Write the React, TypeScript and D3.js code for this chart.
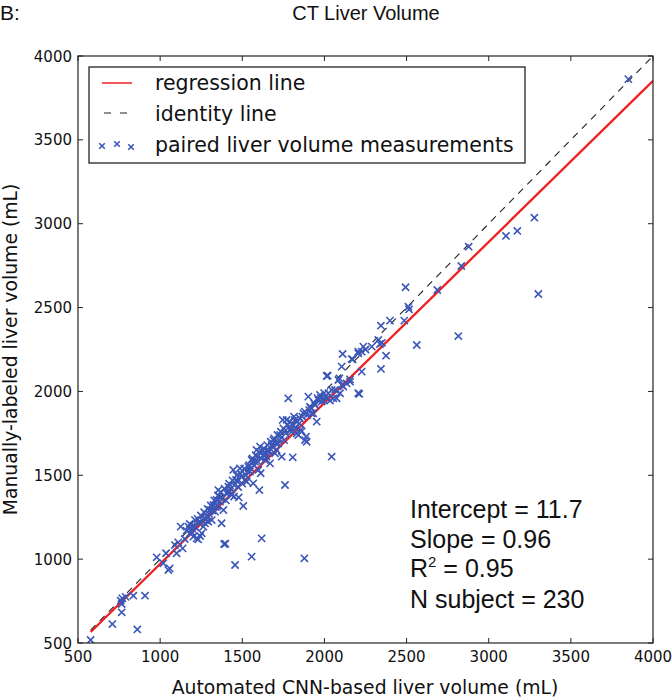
import React from "react";
import * as d3 from "d3";

const autoVolume = [
  577, 709, 861, 766, 766, 770, 790, 760, 837, 908,
  979, 1019, 1050, 1058, 1036, 1100, 1090, 1137, 1125, 1110, 1150,
  1172, 1182, 1192, 1202, 1212, 1222, 1232, 1243, 1253, 1263, 1273, 1283, 1293, 1303, 1314, 1324, 1334, 1344, 1348,
  1354, 1360, 1364, 1374, 1385, 1389, 1397, 1405, 1415, 1425, 1435, 1445, 1450, 1456, 1462, 1470, 1478, 1486, 1496,
  1506, 1516, 1527, 1537, 1547, 1557, 1557, 1567, 1577, 1587, 1592, 1598, 1604, 1608, 1612, 1618, 1622, 1628, 1638,
  1648, 1659, 1669, 1679, 1689, 1699, 1709, 1719, 1730, 1740, 1746, 1754, 1760, 1770, 1780, 1786, 1794, 1807, 1815,
  1823, 1831, 1841, 1847, 1855, 1862, 1872, 1878, 1882, 1888, 1892, 1902, 1908, 1912, 1922, 1932, 1943, 1953, 1963,
  1973, 1983, 1993, 2004, 2014, 2024, 2034, 2044, 2054, 2064, 2074, 2095, 2115, 2135, 2156, 2206,
  1160, 1180, 1195, 1205, 1215, 1228, 1238, 1248, 1258, 1268, 1278, 1288, 1298, 1308, 1318, 1330, 1340, 1352, 1368,
  1378, 1392, 1400, 1410, 1420, 1430, 1440, 1452, 1466, 1475, 1490, 1500, 1512, 1522, 1532, 1542, 1552, 1562, 1572,
  1582, 1596, 1602, 1615, 1632, 1642, 1652, 1663, 1673, 1684, 1694, 1705, 1714, 1725, 1735, 1750, 1765, 1776, 1790,
  1800, 1810, 1820, 1835, 1850, 1865, 1880, 1895, 1918, 1938, 1958, 1978, 1998,
  2014, 2020, 2044, 2085, 2091, 2105, 2105, 2111, 2156, 2166, 2172, 2206, 2206, 2212, 2227, 2227, 2237, 2250, 2288,
  2328, 2338, 2344, 2344, 2350, 2375, 2399, 2486, 2494, 2511, 2515, 2562, 2687, 2815, 2833, 2878, 3105, 3174, 3278,
  3302, 3850,
];

const manualVolume = [
  518, 613, 581, 683, 732, 766, 775, 752, 782, 782,
  1011, 975, 935, 945, 1035, 1035, 1084, 1064, 1194, 1100, 1120,
  1194, 1154, 1160, 1134, 1233, 1124, 1118, 1138, 1154, 1194, 1213, 1253, 1223, 1293, 1233, 1323, 1283, 1353, 1317,
  1412, 1373, 1343, 1214, 1293, 1090, 1092, 1392, 1432, 1402, 1382, 1532, 1373, 965, 1472, 1462, 1368, 1541, 1492,
  1317, 1472, 1462, 1551, 1522, 1015, 1591, 1452, 1581, 1651, 1611, 1532, 1412, 1671, 1512, 1124, 1641, 1621, 1591,
  1611, 1651, 1571, 1681, 1710, 1631, 1651, 1690, 1740, 1611, 1830, 1710, 1442, 1830, 1959, 1790, 1770, 1607, 1850,
  1780, 1750, 1740, 1810, 1770, 1762, 1869, 1005, 1710, 1730, 1700, 1969, 1889, 1909, 1869, 1869, 1919, 1820, 1949,
  1979, 1939, 1949, 1969, 1959, 1989, 1945, 1611, 1959, 2009, 1959, 1989, 2029, 2048, 2058, 1989,
  1170, 1210, 1180, 1200, 1190, 1240, 1220, 1260, 1230, 1280, 1240, 1300, 1270, 1320, 1290, 1350, 1310, 1380, 1400,
  1360, 1420, 1350, 1400, 1450, 1420, 1470, 1440, 1500, 1430, 1510, 1450, 1540, 1500, 1520, 1560, 1540, 1600, 1560,
  1620, 1580, 1640, 1600, 1660, 1630, 1680, 1640, 1700, 1670, 1720, 1690, 1740, 1710, 1760, 1780, 1750, 1800, 1820,
  1760, 1800, 1830, 1820, 1840, 1850, 1880, 1860, 1900, 1930, 1960, 1960, 1990,
  2092, 2094, 2009, 2068, 2078, 2038, 2148, 2223, 2072, 2193, 2191, 2227, 2237, 1985, 2118, 2237, 2267, 2250, 2267,
  2307, 2283, 2134, 2392, 2290, 2213, 2422, 2422, 2621, 2505, 2489, 2277, 2605, 2330, 2748, 2863, 2927, 2957, 3036,
  2581, 3862,
];

const tickValues = [500, 1000, 1500, 2000, 2500, 3000, 3500, 4000];
const legendLabels = ["regression line", "identity line", "paired liver volume measurements"];
const statLines = ["Intercept = 11.7", "Slope = 0.96", "R2 = 0.95", "N subject = 230"];
const regressionIntercept = 11.7;
const regressionSlope = 0.96;

const W = 672;
const H = 698;
const L = 78, R = 653, T = 56, B = 643;

const xScale = d3.scaleLinear().domain([500, 4000]).range([L, R]);
const yScale = d3.scaleLinear().domain([500, 4000]).range([B, T]);

const BLUE = "#3a56b8";
const RED = "#f02020";
const TICK_FONT = "'DejaVu Sans', sans-serif";
const ARIAL = "'Liberation Sans', Arial, sans-serif";

function XMark({ x, y, s = 3.6 }: { x: number; y: number; s?: number }) {
  return (
    <path
      d={`M${x - s},${y - s}L${x + s},${y + s}M${x - s},${y + s}L${x + s},${y - s}`}
      stroke={BLUE}
      strokeWidth={1.6}
      fill="none"
    />
  );
}

export default function App() {
  const xMin = d3.min(autoVolume) as number;
  const line = d3
    .line<number>()
    .x((d) => xScale(d))
    .y((d) => yScale(regressionIntercept + regressionSlope * d));
  const idLine = d3
    .line<number>()
    .x((d) => xScale(d))
    .y((d) => yScale(d));
  const lineX = [xMin, 4000];
  const tick = 5;

  return (
    <svg
      width={W}
      height={H}
      style={{ position: "absolute", left: 0, top: 0, display: "block", background: "#fff" }}
    >
      <defs>
        <clipPath id="plot">
          <rect x={L} y={T} width={R - L} height={B - T} />
        </clipPath>
      </defs>
      <rect x={0} y={0} width={W} height={H} fill="#fff" />

      <text x={0} y={20} fontFamily={ARIAL} fontSize={21} fill="#111">B:</text>
      <text x={366} y={20} fontFamily={ARIAL} fontSize={20} textAnchor="middle" fill="#111">
        CT Liver Volume
      </text>

      <g clipPath="url(#plot)">
        <path d={idLine(lineX) || ""} stroke="#222" strokeWidth={1.1} strokeDasharray="7,6" fill="none" />
        <path d={line(lineX) || ""} stroke={RED} strokeWidth={2.3} fill="none" />
        {autoVolume.map((a, i) => (
          <XMark key={i} x={xScale(a)} y={yScale(manualVolume[i])} />
        ))}
      </g>

      {/* frame */}
      <rect x={L} y={T} width={R - L} height={B - T} fill="none" stroke="#222" strokeWidth={1.2} />

      {/* ticks */}
      {tickValues.map((v) => (
        <g key={"x" + v}>
          <line x1={xScale(v)} x2={xScale(v)} y1={B} y2={B - tick} stroke="#222" />
          <line x1={xScale(v)} x2={xScale(v)} y1={T} y2={T + tick} stroke="#222" />
          <text x={xScale(v)} y={662} fontFamily={TICK_FONT} fontSize={15} textAnchor="middle" fill="#111">
            {v}
          </text>
        </g>
      ))}
      {tickValues.map((v) => (
        <g key={"y" + v}>
          <line x1={L} x2={L + tick} y1={yScale(v)} y2={yScale(v)} stroke="#222" />
          <line x1={R} x2={R - tick} y1={yScale(v)} y2={yScale(v)} stroke="#222" />
          <text x={72} y={yScale(v) + 5.5} fontFamily={TICK_FONT} fontSize={15} textAnchor="end" fill="#111">
            {v}
          </text>
        </g>
      ))}

      <text x={365} y={694} fontFamily={TICK_FONT} fontSize={18.8} textAnchor="middle" fill="#111">
        Automated CNN-based liver volume (mL)
      </text>
      <text
        transform={`translate(17,${(T + B) / 2}) rotate(-90)`}
        fontFamily={TICK_FONT}
        fontSize={18.8}
        textAnchor="middle"
        fill="#111"
      >
        Manually-labeled liver volume (mL)
      </text>

      {/* legend */}
      <rect x={89} y={67} width={436} height={96} fill="#fff" stroke="#222" strokeWidth={1.3} />
      <line x1={102} x2={132} y1={83} y2={83} stroke={RED} strokeWidth={1.5} />
      <line x1={102} x2={132} y1={113} y2={113} stroke="#222" strokeWidth={1.1} strokeDasharray="7,9" strokeDashoffset={-2} />
      <XMark x={102} y={146} s={2.8} />
      <XMark x={117} y={144} s={2.8} />
      <XMark x={131} y={147} s={2.8} />
      {legendLabels.map((t, i) => (
        <text key={t} x={155} y={90 + i * 31} fontFamily={TICK_FONT} fontSize={20.5} fill="#111">
          {t}
        </text>
      ))}

      {/* statistics */}
      {statLines.map((t, i) => {
        const y = [518, 548, 577, 608][i];
        if (t.startsWith("R2")) {
          return (
            <text key={t} x={410} y={y} fontFamily={ARIAL} fontSize={25} fill="#111">
              R
              <tspan dy={-10} fontSize={15}>2</tspan>
              <tspan dy={10}>{t.slice(2)}</tspan>
            </text>
          );
        }
        return (
          <text key={t} x={410} y={y} fontFamily={ARIAL} fontSize={25} fill="#111">
            {t}
          </text>
        );
      })}
    </svg>
  );
}
